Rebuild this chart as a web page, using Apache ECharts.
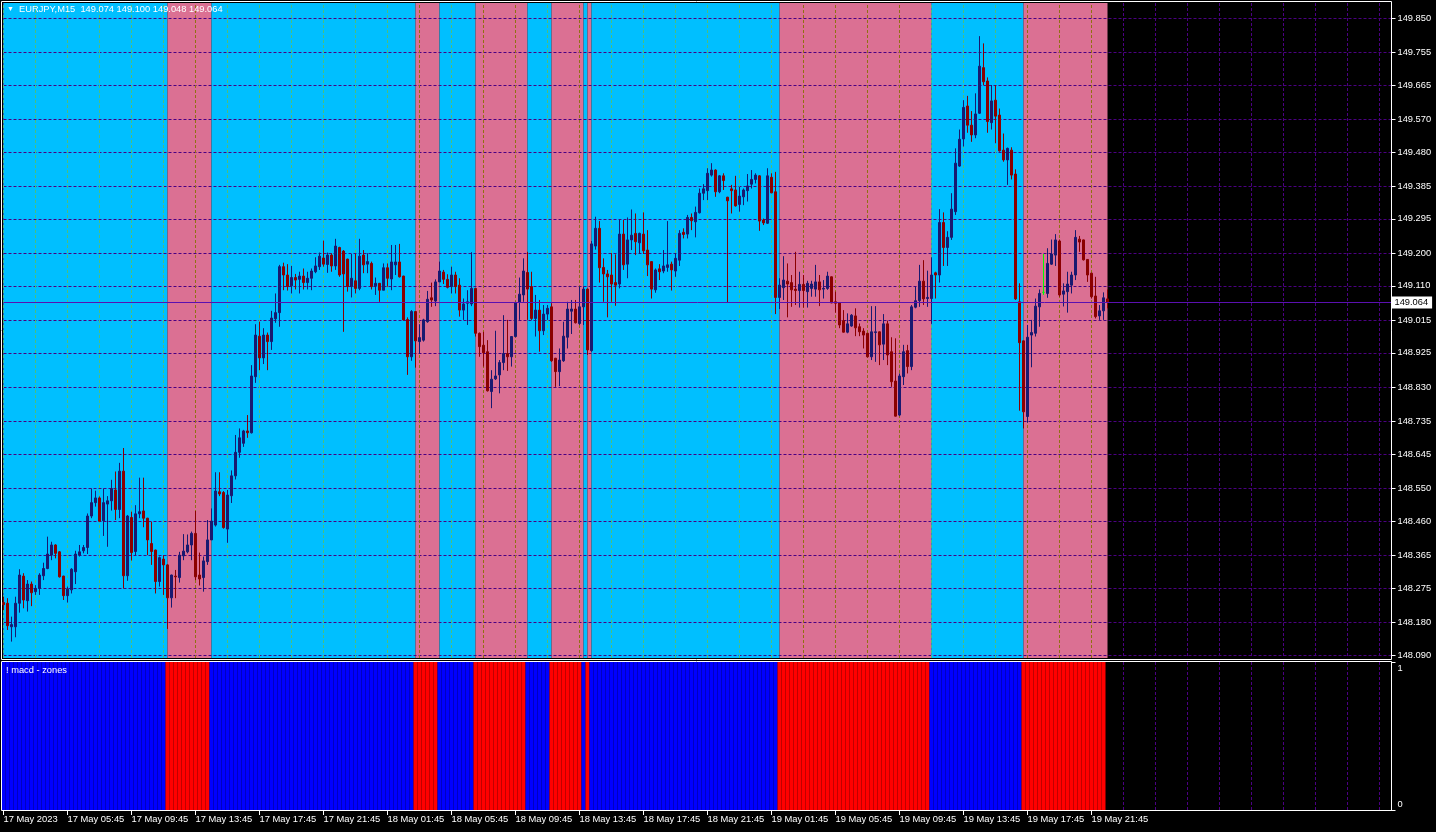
<!DOCTYPE html>
<html>
<head>
<meta charset="utf-8">
<script src="https://cdn.jsdelivr.net/npm/echarts@6/dist/echarts.min.js"></script>
<style>
html,body{margin:0;padding:0;background:#000;}
#c{width:1436px;height:832px;}
</style>
</head>
<body>
<div id="c"></div>
<script>
// ---------------- data ----------------
const symbolName = 'EURJPY,M15';
const indicatorName = '! macd - zones';

const opens = [
148.235,148.233,148.168,148.168,148.233,148.308,148.240,148.286,148.265,148.274,
148.309,148.329,148.366,148.394,148.375,148.308,148.254,148.270,148.320,148.366,
148.378,148.387,148.474,148.511,148.524,148.461,148.507,148.516,148.546,148.492,
148.598,148.309,148.470,148.376,148.480,148.488,148.468,148.398,148.380,148.293,
148.355,148.339,148.248,148.308,148.304,148.364,148.375,148.394,148.426,148.311,
148.304,148.348,148.408,148.449,148.541,148.539,148.438,148.530,148.585,148.650,
148.675,148.709,148.704,148.859,148.971,148.911,148.974,148.956,149.019,149.036,
149.163,149.140,149.110,149.133,149.128,149.137,149.119,149.131,149.149,149.163,
149.187,149.169,149.195,149.165,149.216,149.206,149.184,149.108,149.124,149.103,
149.195,149.170,149.172,149.110,149.117,149.098,149.160,149.129,149.168,149.176,
149.137,149.017,148.914,149.039,148.956,148.960,149.011,149.077,149.068,149.121,
149.148,149.128,149.108,149.140,149.112,149.043,149.062,149.060,149.103,148.979,
148.946,148.928,148.818,148.853,148.864,148.898,148.923,148.914,148.970,149.064,
149.085,149.147,149.108,149.020,149.043,148.986,149.032,149.052,148.910,148.873,
148.903,148.968,149.040,149.046,149.006,149.052,149.101,148.931,149.220,149.269,
149.161,149.143,149.140,149.119,149.115,149.253,149.170,149.237,149.255,149.229,
149.253,149.209,149.177,149.099,149.157,149.151,149.161,149.170,149.151,149.181,
149.258,149.253,149.299,149.287,149.312,149.366,149.373,149.416,149.430,149.370,
149.414,149.355,149.378,149.375,149.335,149.356,149.373,149.391,149.404,149.414,
149.292,149.283,149.410,149.370,149.078,149.105,149.123,149.119,149.101,149.097,
149.114,149.094,149.103,149.101,149.121,149.101,149.103,149.135,149.066,149.064,
149.014,148.982,148.999,149.027,148.997,148.985,148.979,148.914,148.981,148.983,
148.949,149.005,148.928,148.847,148.753,148.859,148.931,148.887,149.051,149.069,
149.123,149.075,149.075,149.146,149.140,149.285,149.216,149.244,149.315,149.441,
149.516,149.607,149.554,149.527,149.587,149.713,149.676,149.561,149.623,149.582,
149.485,149.458,149.485,149.419,149.066,148.958,148.749,148.974,148.979,149.052,
149.092,149.089,149.170,149.195,149.234,149.087,149.094,149.112,149.140,149.239,
149.237,149.183,149.145,149.082,149.027,149.041,149.074];

const highs = [
148.251,148.247,148.196,148.251,148.327,148.316,148.297,148.293,148.283,148.316,
148.345,148.417,148.403,148.396,148.377,148.309,148.279,148.330,148.378,148.394,
148.394,148.481,148.550,148.544,148.528,148.550,148.529,148.574,148.597,148.621,
148.662,148.477,148.486,148.504,148.580,148.580,148.469,148.458,148.381,148.362,
148.366,148.341,148.312,148.325,148.375,148.424,148.423,148.431,148.488,148.373,
148.362,148.463,148.495,148.595,148.595,148.543,148.546,148.600,148.698,148.716,
148.712,148.753,148.891,149.004,149.011,148.993,148.981,149.041,149.089,149.168,
149.174,149.170,149.165,149.143,149.149,149.158,149.149,149.158,149.189,149.202,
149.235,149.202,149.200,149.240,149.218,149.209,149.185,149.198,149.198,149.240,
149.209,149.200,149.177,149.133,149.118,149.172,149.172,149.223,149.223,149.226,
149.138,149.023,149.043,149.040,149.004,149.019,149.096,149.119,149.128,149.177,
149.154,149.142,149.163,149.149,149.131,149.075,149.098,149.203,149.104,148.981,
148.983,148.960,148.877,148.986,148.905,149.029,149.016,148.971,149.066,149.133,
149.186,149.204,149.149,149.085,149.071,149.057,149.057,149.062,148.911,148.937,
149.011,149.066,149.071,149.071,149.109,149.108,149.103,149.234,149.301,149.289,
149.186,149.154,149.200,149.197,149.292,149.292,149.299,149.321,149.310,149.257,
149.313,149.264,149.178,149.158,149.170,149.209,149.289,149.177,149.200,149.264,
149.269,149.306,149.310,149.329,149.379,149.391,149.435,149.449,149.432,149.416,
149.421,149.356,149.389,149.414,149.384,149.379,149.419,149.430,149.421,149.416,
149.296,149.435,149.421,149.425,149.131,149.192,149.172,149.140,149.204,149.149,
149.140,149.124,149.124,149.168,149.140,149.126,149.149,149.136,149.094,149.065,
149.043,149.034,149.032,149.048,149.006,148.993,148.980,149.054,149.054,148.984,
149.032,149.014,148.968,148.965,148.868,148.947,148.947,149.057,149.108,149.168,
149.181,149.152,149.189,149.149,149.322,149.313,149.261,149.366,149.490,149.542,
149.623,149.635,149.593,149.642,149.800,149.780,149.686,149.665,149.665,149.600,
149.531,149.492,149.493,149.432,149.117,148.959,149.002,149.016,149.075,149.100,
149.198,149.214,149.238,149.253,149.238,149.117,149.149,149.149,149.264,149.248,
149.238,149.184,149.146,149.135,149.057,149.092,149.100];

const lows = [
148.214,148.159,148.127,148.139,148.207,148.219,148.210,148.225,148.256,148.256,
148.297,148.327,148.352,148.357,148.304,148.242,148.235,148.260,148.286,148.362,
148.371,148.369,148.468,148.500,148.458,148.419,148.389,148.489,148.463,148.468,
148.274,148.295,148.351,148.366,148.468,148.443,148.366,148.339,148.260,148.279,
148.256,148.162,148.221,148.247,148.290,148.352,148.371,148.352,148.297,148.282,
148.265,148.339,148.408,148.445,148.529,148.439,148.400,148.510,148.575,148.635,
148.665,148.690,148.702,148.842,148.877,148.894,148.877,148.933,149.008,148.997,
149.098,149.097,149.089,149.100,149.089,149.100,149.100,149.098,149.145,149.154,
149.163,149.146,149.149,149.154,149.135,148.983,149.094,149.078,149.089,149.098,
149.145,149.145,149.100,149.085,149.066,149.098,149.108,149.098,149.140,149.133,
149.014,148.864,148.903,148.884,148.923,148.956,149.008,149.052,149.054,149.121,
149.115,149.103,149.089,149.089,149.025,149.016,149.002,149.054,148.970,148.914,
148.887,148.818,148.772,148.850,148.813,148.877,148.875,148.887,148.968,149.016,
149.066,149.016,149.016,148.970,148.928,148.974,149.016,148.900,148.831,148.833,
148.900,148.937,148.977,149.006,149.002,149.002,148.919,148.928,149.210,149.119,
149.066,149.023,149.066,149.055,149.103,149.154,149.131,149.209,149.195,149.198,
149.198,149.137,149.075,149.091,149.126,149.145,149.149,149.097,149.135,149.165,
149.241,149.241,149.264,149.244,149.310,149.347,149.347,149.412,149.356,149.366,
149.375,149.064,149.310,149.329,149.315,149.333,149.343,149.379,149.393,149.262,
149.278,149.281,149.366,149.032,149.046,149.071,149.023,149.052,149.057,149.050,
149.050,149.050,149.080,149.080,149.054,149.075,149.099,149.062,149.036,148.993,
148.981,148.979,148.997,148.971,148.971,148.937,148.912,148.905,148.900,148.891,
148.905,148.891,148.831,148.749,148.750,148.836,148.868,148.877,149.048,149.052,
149.057,149.052,149.005,149.075,149.119,149.165,149.165,149.237,149.306,149.439,
149.495,149.533,149.508,149.518,149.585,149.665,149.533,149.542,149.504,149.481,
149.453,149.389,149.404,149.071,148.765,148.716,148.732,148.885,148.970,148.997,
149.085,149.077,149.168,149.165,149.080,149.053,149.036,149.089,149.126,149.204,
149.180,149.121,149.075,149.020,149.016,149.016,149.048];

const closes = [
148.229,148.171,148.174,148.233,148.311,148.242,148.286,148.262,148.274,148.311,
148.329,148.369,148.394,148.371,148.306,148.254,148.272,148.327,148.369,148.375,
148.387,148.474,148.511,148.524,148.460,148.511,148.516,148.550,148.492,148.598,
148.309,148.474,148.373,148.480,148.486,148.468,148.408,148.376,148.293,148.359,
148.339,148.248,148.311,148.306,148.366,148.377,148.394,148.426,148.306,148.300,
148.350,148.408,148.460,148.543,148.535,148.442,148.532,148.585,148.650,148.690,
148.709,148.704,148.861,148.974,148.911,148.974,148.956,149.021,149.036,149.163,
149.140,149.108,149.133,149.126,149.137,149.119,149.131,149.151,149.165,149.192,
149.170,149.195,149.165,149.220,149.140,149.143,149.108,149.131,149.103,149.192,
149.168,149.177,149.108,149.117,149.098,149.160,149.131,149.176,149.176,149.135,
149.016,148.914,149.039,148.958,148.967,149.016,149.073,149.071,149.121,149.151,
149.128,149.106,149.140,149.108,149.043,149.060,149.066,149.103,148.979,148.942,
148.925,148.820,148.852,148.861,148.898,148.923,148.914,148.970,149.064,149.087,
149.151,149.101,149.020,149.043,148.986,149.032,149.048,148.903,148.873,148.905,
148.971,149.046,149.046,149.008,149.052,149.101,148.933,149.226,149.269,149.160,
149.143,149.135,149.115,149.112,149.253,149.168,149.237,149.250,149.232,149.255,
149.207,149.168,149.101,149.154,149.149,149.165,149.168,149.154,149.186,149.255,
149.252,149.299,149.290,149.313,149.366,149.378,149.421,149.430,149.370,149.414,
149.401,149.345,149.373,149.331,149.358,149.375,149.386,149.404,149.416,149.289,
149.284,149.414,149.367,149.078,149.112,149.126,149.115,149.099,149.097,149.114,
149.097,149.117,149.115,149.121,149.099,149.103,149.137,149.063,149.062,149.002,
148.982,149.005,149.029,148.994,148.983,148.974,148.914,148.983,148.983,148.947,
149.005,148.919,148.845,148.750,148.861,148.928,148.887,149.052,149.069,149.123,
149.074,149.078,149.140,149.140,149.285,149.216,149.244,149.322,149.449,149.515,
149.603,149.554,149.527,149.585,149.717,149.674,149.564,149.621,149.579,149.483,
149.458,149.490,149.416,149.074,148.953,148.762,148.968,148.981,149.054,149.089,
149.092,149.172,149.198,149.237,149.085,149.096,149.115,149.140,149.244,149.231,
149.182,149.140,149.080,149.025,149.041,149.077,149.064];

// zone runs: [first bar, last bar, state]  1 = buy (blue), 0 = sell (red)
const zoneRuns = [
  [0,40,1],[41,51,0],[52,102,1],[103,108,0],[109,117,1],[118,130,0],
  [131,136,1],[137,144,0],[145,145,1],[146,146,0],[147,193,1],[194,231,0],
  [232,254,1],[255,275,0]
];

const priceTicks = [149.850,149.755,149.665,149.570,149.480,149.385,149.295,149.200,149.110,149.015,
                    148.925,148.830,148.735,148.645,148.550,148.460,148.365,148.275,148.180,148.090];
const priceMin = 148.0817, priceMax = 149.8916;

const timeLabels = ['17 May 2023','17 May 05:45','17 May 09:45','17 May 13:45','17 May 17:45','17 May 21:45',
                    '18 May 01:45','18 May 05:45','18 May 09:45','18 May 13:45','18 May 17:45','18 May 21:45',
                    '19 May 01:45','19 May 05:45','19 May 09:45','19 May 13:45','19 May 17:45','19 May 21:45'];
const indicatorTicks = [0, 1];

// ---------------- styles ----------------
const FONT = "'Liberation Sans', Arial, sans-serif";
const GRID_COLOR = '#4B0082';
const BID_COLOR = '#5A10B0';
const BULL = '#191970', BEAR = '#8B0000', DOJI = '#00FF00';
const MAIN_BUY = '#00BFFF', MAIN_SELL = '#DB7093';
const IND_BUY = '#0000FF', IND_SELL = '#FF0000';
const TOTAL_SLOTS = 348;       // bars + empty space on the right
const LABEL_EVERY = 16, GRID_EVERY = 8;

const xorHex = (a, b) => '#' + ((parseInt(a.slice(1),16) ^ parseInt(b.slice(1),16)) & 0xffffff).toString(16).padStart(6,'0');

const nBars = opens.length;
const cats = Array.from({length: TOTAL_SLOTS}, (_, i) => String(i));
const zoneState = [];
zoneRuns.forEach(([s, e, st]) => { for (let i = s; i <= e; i++) zoneState[i] = st; });

const candleData = opens.map((o, i) => {
  const item = {value: [o, closes[i], lows[i], highs[i]]};
  if (o === closes[i]) item.itemStyle = {color: DOJI, color0: DOJI, borderColor: DOJI, borderColor0: DOJI, borderColorDoji: DOJI};
  return item;
});
const last = nBars - 1;
const fmt = v => v.toFixed(3);

const mainAreas = zoneRuns.map(([s, e, st]) => [
  {xAxis: s, itemStyle: {color: st ? MAIN_BUY : MAIN_SELL, opacity: 1}},
  {xAxis: e + 1}
]);
const gridLines = [];
priceTicks.forEach(v => gridLines.push({yAxis: v, lineStyle: {color: GRID_COLOR}}));
for (let b = 0; b < zoneState.length; b += GRID_EVERY) {
  gridLines.push({xAxis: b, lineStyle: {color: xorHex(zoneState[b] ? MAIN_BUY : MAIN_SELL, GRID_COLOR)}});
}

const chart = echarts.init(document.getElementById('c'));
chart.setOption({
  animation: false,
  backgroundColor: '#000',
  textStyle: {fontFamily: FONT},
  title: [
    {left: 7, top: 5, padding: 0,
     text: '{tri|▼}  ' + symbolName + '  ' + [opens[last], highs[last], lows[last], closes[last]].map(fmt).join(' '),
     textStyle: {color: '#fff', fontSize: 9.3, fontWeight: 'normal', fontFamily: FONT, rich: {tri: {fontSize: 7, color: '#fff'}}}},
    {left: 6, top: 666, padding: 0, text: indicatorName,
     textStyle: {color: '#fff', fontSize: 9.3, fontWeight: 'normal', fontFamily: FONT}}
  ],
  grid: [
    {left: 3.5, top: 3, width: 1388, height: 655, show: false},
    {left: 3.5, top: 662, width: 1388, height: 148, show: false}
  ],
  xAxis: [
    {gridIndex: 0, type: 'category', data: cats, boundaryGap: false,
     axisLine: {show: false}, axisTick: {show: false}, axisLabel: {show: false},
     splitLine: {show: true, interval: i => i % GRID_EVERY === 0, lineStyle: {color: GRID_COLOR, type: [3, 2], width: 1}}},
    {gridIndex: 1, type: 'category', data: cats, boundaryGap: false,
     axisLine: {show: true, lineStyle: {color: '#fff', width: 1}},
     axisTick: {show: true, interval: i => i % LABEL_EVERY === 0 && i < nBars, length: 5, lineStyle: {color: '#fff'}},
     axisLabel: {show: true, interval: i => i % LABEL_EVERY === 0 && i < nBars, align: 'left', margin: 5,
                 color: '#fff', fontSize: 9.4, fontFamily: FONT,
                 formatter: (v, i) => timeLabels[Math.round(i / LABEL_EVERY)] || ''},
     splitLine: {show: true, interval: i => i % GRID_EVERY === 0, lineStyle: {color: GRID_COLOR, type: [3, 2], width: 1}}}
  ],
  yAxis: [
    {gridIndex: 0, type: 'value', position: 'right', min: priceMin, max: priceMax, scale: true,
     axisLine: {show: true, lineStyle: {color: '#fff', width: 1}},
     axisTick: {show: true, customValues: priceTicks, length: 4, lineStyle: {color: '#fff'}},
     axisLabel: {show: true, customValues: priceTicks, margin: 6, color: '#fff', fontSize: 9.3, fontFamily: FONT, formatter: v => fmt(v)},
     splitLine: {show: false}},
    {gridIndex: 1, type: 'value', position: 'right', min: 0, max: 1,
     axisLine: {show: true, lineStyle: {color: '#fff', width: 1}},
     axisTick: {show: true, customValues: indicatorTicks, length: 4, lineStyle: {color: '#fff'}},
     axisLabel: {show: true, customValues: indicatorTicks, margin: 6, color: '#fff', fontSize: 9.3, fontFamily: FONT,
                 formatter: v => v >= 1 ? '{t|1}' : '{b|0}',
                 rich: {t: {padding: [12, 0, 0, 0], color: '#fff', fontSize: 9.3}, b: {padding: [0, 0, 11, 0], color: '#fff', fontSize: 9.3}}},
     splitLine: {show: false}}
  ],
  series: [
    {name: 'zones', type: 'line', xAxisIndex: 0, yAxisIndex: 0, data: [], silent: true, z: 1,
     markArea: {silent: true, z: 1, itemStyle: {opacity: 1}, data: mainAreas}},
    {name: 'grid', type: 'line', xAxisIndex: 0, yAxisIndex: 0, data: [], silent: true, z: 3,
     markLine: {silent: true, z: 3, symbol: ['none', 'none'], label: {show: false}, precision: 3,
                lineStyle: {type: [3, 2], width: 1, color: GRID_COLOR}, emphasis: {disabled: true}, data: gridLines}},
    {name: symbolName, type: 'candlestick', xAxisIndex: 0, yAxisIndex: 0, z: 5, barWidth: 2,
     data: candleData,
     itemStyle: {color: BULL, color0: BEAR, borderColor: BULL, borderColor0: BEAR, borderWidth: 1},
     markLine: {silent: true, z: 6, symbol: ['none', 'none'], precision: 3,
                lineStyle: {color: BID_COLOR, type: 'solid', width: 1},
                label: {show: true, position: 'end', distance: 0, formatter: () => fmt(closes[last]),
                        backgroundColor: '#fff', color: '#000', fontSize: 9.3, fontFamily: FONT, padding: [2, 4, 1, 3]},
                data: [{yAxis: closes[last]}]}},
    {name: 'macd zones', type: 'bar', xAxisIndex: 1, yAxisIndex: 1, barWidth: '100%', z: 2, silent: true,
     data: zoneState.map(st => ({value: 1, itemStyle: {color: st ? IND_BUY : IND_SELL}}))}
  ],
  graphic: [
    {type: 'rect', silent: true, z: 100, shape: {x: 1.5, y: 1.5, width: 1390, height: 658}, style: {fill: 'none', stroke: '#fff', lineWidth: 1}},
    {type: 'rect', silent: true, z: 100, shape: {x: 1.5, y: 661.5, width: 1390, height: 149}, style: {fill: 'none', stroke: '#fff', lineWidth: 1}}
  ]
});
</script>
</body>
</html>
